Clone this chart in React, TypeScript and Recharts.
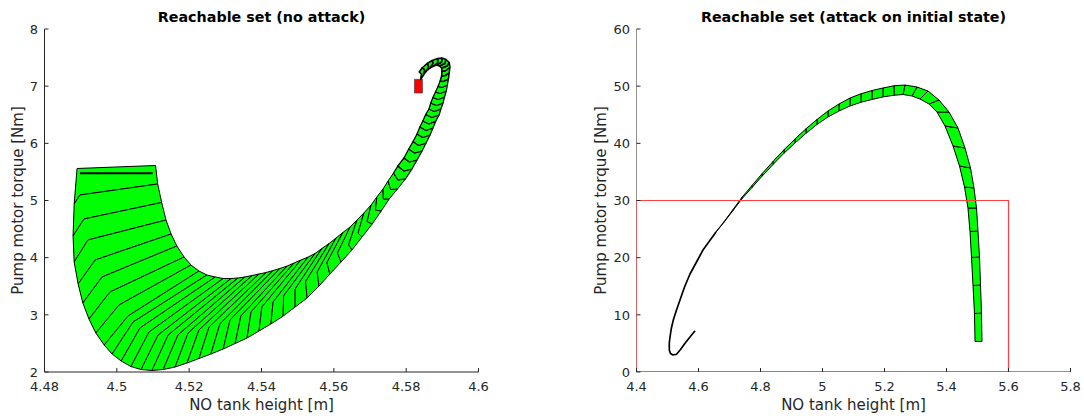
import React from "react";
import { ScatterChart, Scatter, XAxis, YAxis, ReferenceArea } from "recharts";

type Pt = [number, number];

const AXIS = "#262626";
const GREEN = "#00ff00";
const FONT = "'DejaVu Sans', Verdana, sans-serif";

const noAttackXTicks = [4.48, 4.5, 4.52, 4.54, 4.56, 4.58, 4.6];
const noAttackYTicks = [2, 3, 4, 5, 6, 7, 8];
const attackXTicks = [4.4, 4.6, 4.8, 5, 5.2, 5.4, 5.6, 5.8];
const attackYTicks = [0, 10, 20, 30, 40, 50, 60];

// reach set cross sections, one per time step: outer edge, kink, inner edge
const noAttackSections: Pt[][] = [
  [[4.489, 5.5598], [4.4998, 5.5861], [4.5107, 5.6123]],
  [[4.4882, 4.9388], [4.4898, 5.0963], [4.5113, 5.2887]],
  [[4.4879, 4.379], [4.4909, 4.6764], [4.5124, 4.9651]],
  [[4.4882, 3.9241], [4.492, 4.309], [4.5136, 4.6589]],
  [[4.4893, 3.5392], [4.494, 3.9591], [4.515, 4.414]],
  [[4.4906, 3.2068], [4.4959, 3.6617], [4.5166, 4.2041]],
  [[4.4923, 2.9268], [4.4981, 3.3994], [4.5186, 4.0116]],
  [[4.4942, 2.6819], [4.5006, 3.172], [4.5205, 3.8716]],
  [[4.4965, 2.4719], [4.5031, 2.9796], [4.5227, 3.7667]],
  [[4.4987, 2.3144], [4.5045, 2.8747], [4.5249, 3.6967]],
  [[4.5012, 2.192], [4.5064, 2.7697], [4.5272, 3.6617]],
  [[4.5039, 2.0957], [4.5089, 2.6997], [4.5294, 3.6354]],
  [[4.5067, 2.0433], [4.5114, 2.6472], [4.5316, 3.6354]],
  [[4.5097, 2.0258], [4.5142, 2.6472], [4.5335, 3.6442]],
  [[4.5128, 2.0433], [4.5169, 2.6472], [4.5354, 3.6617]],
  [[4.5161, 2.087], [4.5197, 2.6822], [4.5374, 3.6879]],
  [[4.5194, 2.157], [4.5227, 2.7347], [4.5393, 3.7142]],
  [[4.5227, 2.2357], [4.5255, 2.7872], [4.5413, 3.7404]],
  [[4.526, 2.3144], [4.5285, 2.8397], [4.5432, 3.7754]],
  [[4.5294, 2.4019], [4.5313, 2.9096], [4.5451, 3.8104]],
  [[4.5327, 2.4982], [4.5343, 2.9796], [4.5471, 3.8541]],
  [[4.536, 2.5944], [4.5371, 3.0496], [4.549, 3.9066]],
  [[4.5393, 2.7169], [4.5401, 3.1371], [4.5509, 3.9591]],
  [[4.5426, 2.8394], [4.5432, 3.2245], [4.5529, 4.0116]],
  [[4.546, 2.9796], [4.5461, 3.3295], [4.5548, 4.0728]],
  [[4.5493, 3.1368], [4.5493, 3.4519], [4.5567, 4.1603]],
  [[4.5526, 3.2943], [4.5522, 3.5831], [4.5587, 4.2478]],
  [[4.5559, 3.5042], [4.5554, 3.7493], [4.5606, 4.344]],
  [[4.5589, 3.7142], [4.5581, 3.9155], [4.5625, 4.4403]],
  [[4.562, 3.9241], [4.561, 4.0817], [4.5645, 4.5364]],
  [[4.565, 4.1341], [4.5641, 4.2303], [4.5664, 4.6589]],
  [[4.5678, 4.3615], [4.5667, 4.4315], [4.5683, 4.7814]],
  [[4.5706, 4.5889], [4.5692, 4.6327], [4.5703, 4.9213]],
  [[4.5731, 4.8164], [4.5715, 4.8339], [4.5719, 5.0613]],
  [[4.5753, 5.0263], [4.5737, 5.0263], [4.5736, 5.2012]],
  [[4.5776, 5.2012], [4.5757, 5.1925], [4.575, 5.3412]],
  [[4.5798, 5.3762], [4.5777, 5.3587], [4.5765, 5.4811]],
  [[4.5816, 5.5511], [4.5794, 5.5161], [4.5777, 5.6036]],
  [[4.583, 5.7085], [4.5809, 5.6735], [4.5794, 5.7435]],
  [[4.5844, 5.866], [4.5823, 5.831], [4.5807, 5.901]],
  [[4.5855, 6.0059], [4.5835, 5.9622], [4.5819, 6.0322]],
  [[4.5866, 6.1459], [4.5846, 6.1021], [4.583, 6.1634]],
  [[4.5874, 6.2683], [4.5855, 6.2246], [4.5838, 6.2858]],
  [[4.5882, 6.3908], [4.5863, 6.3383], [4.5846, 6.3908]],
  [[4.5891, 6.4957], [4.5871, 6.4519], [4.5854, 6.5044]],
  [[4.5896, 6.6007], [4.5878, 6.5569], [4.5863, 6.6007]],
  [[4.5902, 6.7056], [4.5884, 6.6619], [4.5868, 6.7056]],
  [[4.5906, 6.8106], [4.5889, 6.7668], [4.5874, 6.8018]],
  [[4.5911, 6.9156], [4.5894, 6.8718], [4.5881, 6.8981]],
  [[4.5914, 7.0205], [4.5899, 6.9767], [4.5888, 6.9942]],
  [[4.5917, 7.1254], [4.5903, 7.0816], [4.5894, 7.0904]],
  [[4.5919, 7.2304], [4.5907, 7.1866], [4.5898, 7.1779]],
  [[4.5921, 7.3354], [4.591, 7.2741], [4.5899, 7.2566]],
  [[4.5919, 7.4141], [4.5913, 7.3529], [4.5898, 7.3179]],
  [[4.591, 7.4666], [4.5907, 7.3966], [4.5892, 7.3529]],
  [[4.5899, 7.4928], [4.5898, 7.4228], [4.5885, 7.3704]],
  [[4.5887, 7.4841], [4.5887, 7.4141], [4.5876, 7.3529]],
  [[4.5872, 7.4491], [4.5874, 7.3966], [4.5866, 7.3179]],
  [[4.5858, 7.3966], [4.5862, 7.3441], [4.5855, 7.2566]],
  [[4.5845, 7.3266], [4.5851, 7.2829], [4.5847, 7.1866]],
  [[4.5836, 7.2479], [4.5842, 7.2129], [4.584, 7.1166]],
];

const initialSet: Pt[] = [
  [4.4898, 5.476],
  [4.5099, 5.476],
];

const targetBox = { x1: 4.5823, x2: 4.5845, y1: 6.88, y2: 7.12 };

// attack case: outer edge, inner edge
const attackSections: Pt[][] = [
  [[5.5145, 5.34], [5.492, 5.34]],
  [[5.5129, 10.32], [5.4903, 10.23]],
  [[5.5097, 15.22], [5.4855, 15.13]],
  [[5.5065, 20.12], [5.4807, 20.03]],
  [[5.5016, 24.67], [5.4758, 24.58]],
  [[5.4968, 28.69], [5.4693, 28.69]],
  [[5.4887, 32.19], [5.4581, 32.36]],
  [[5.4774, 35.69], [5.442, 36.04]],
  [[5.4597, 39.18], [5.421, 39.53]],
  [[5.4371, 42.68], [5.3952, 43.03]],
  [[5.4081, 45.48], [5.3694, 45.48]],
  [[5.3758, 47.58], [5.3436, 46.88]],
  [[5.3403, 49.15], [5.3145, 47.75]],
  [[5.3049, 49.85], [5.2887, 48.28]],
  [[5.2662, 50.2], [5.2597, 48.54]],
  [[5.2307, 50.07], [5.2307, 48.41]],
  [[5.1952, 49.68], [5.1952, 48.12]],
  [[5.1597, 49.24], [5.1597, 47.67]],
  [[5.1242, 48.67], [5.1242, 47.19]],
  [[5.0887, 47.93], [5.0887, 46.53]],
  [[5.0532, 46.88], [5.0532, 45.66]],
  [[5.0177, 45.66], [5.0177, 44.61]],
  [[4.9823, 44.17], [4.9823, 43.3]],
  [[4.9468, 42.55], [4.9468, 41.76]],
  [[4.9113, 40.76], [4.9113, 40.06]],
  [[4.8758, 38.88], [4.8758, 38.27]],
  [[4.8403, 36.82], [4.8403, 36.3]],
  [[4.8048, 34.68], [4.8048, 34.24]],
  [[4.7726, 32.62], [4.7726, 32.27]],
  [[4.7403, 30.57], [4.7403, 30.31]],
  [[4.7113, 28.42], [4.7113, 28.25]],
  [[4.6823, 26.29], [4.6823, 26.19]],
  [[4.6565, 24.52], [4.6565, 24.46]],
];

const attackTail: Pt[] = [
  [4.6565, 24.49],
  [4.6355, 22.92],
  [4.6145, 21.34],
  [4.5936, 19.24],
  [4.5726, 17.14],
  [4.5549, 14.87],
  [4.5403, 12.59],
  [4.5291, 10.85],
  [4.5187, 9.1],
  [4.5123, 7.61],
  [4.5081, 6.12],
  [4.5058, 5.07],
  [4.5058, 3.85],
  [4.5097, 3.24],
  [4.5178, 2.97],
  [4.5291, 3.1],
  [4.542, 3.94],
  [4.5565, 5.02],
  [4.5726, 6.12],
  [4.5887, 7.22],
];

const safeBox: Pt[] = [
  [4.4, 0],
  [5.6, 0],
  [5.6, 30],
  [4.4, 30],
  [4.4, 0],
];

const attackAxes: Pt[] = [
  [4.4, 60],
  [4.4, 0],
  [5.8, 0],
];

const toPoints = (pts: Pt[]) => pts.map(([x, y]) => ({ x, y }));

// consecutive cross sections close into one polygon per step
function toPolygons(sections: Pt[][]) {
  const out: { x: number; y: number }[][] = [];
  for (let i = 0; i < sections.length - 1; i++) {
    const ring = [...sections[i], ...[...sections[i + 1]].reverse()];
    ring.push(ring[0]);
    out.push(toPoints(ring));
  }
  return out;
}

const noAttackPolys = toPolygons(noAttackSections);
const attackPolys = toPolygons(attackSections);

const hidePoint = () => <g />;

function BottomTick(props: any) {
  const { x, y, payload } = props;
  return (
    <g>
      <line x1={x} x2={x} y1={y} y2={y - 4} stroke={AXIS} strokeWidth={1} />
      <text x={x} y={y + 19} textAnchor="middle" fontSize={13} fill={AXIS} fontFamily={FONT}>
        {String(payload.value)}
      </text>
    </g>
  );
}

function LeftTick(props: any) {
  const { x, y, payload } = props;
  return (
    <g>
      <line x1={x} x2={x + 4} y1={y} y2={y} stroke={AXIS} strokeWidth={1} />
      <text x={x - 6.5} y={y} dy="0.36em" textAnchor="end" fontSize={13} fill={AXIS} fontFamily={FONT}>
        {String(payload.value)}
      </text>
    </g>
  );
}

// thin late steps near the equilibrium read darker in the original
const polyLine = (i: number) => ({
  fill: GREEN,
  stroke: "#000",
  strokeWidth: i >= 50 ? 1.5 : i >= 36 ? 1.25 : 1,
  strokeLinejoin: "round",
});

function NoAttackChart() {
  return (
    <ScatterChart width={542} height={418} margin={{ top: 29, right: 63.5, bottom: 0, left: 0 }}>
      <XAxis
        dataKey="x"
        type="number"
        domain={[4.48, 4.6]}
        ticks={noAttackXTicks}
        interval={0}
        allowDataOverflow
        height={46}
        tickSize={0}
        tickMargin={0}
        tickLine={false}
        tick={<BottomTick />}
        axisLine={{ stroke: AXIS }}
      />
      <YAxis
        dataKey="y"
        type="number"
        domain={[2, 8]}
        ticks={noAttackYTicks}
        interval={0}
        allowDataOverflow
        width={44.5}
        tickSize={0}
        tickMargin={0}
        tickLine={false}
        tick={<LeftTick />}
        axisLine={{ stroke: AXIS }}
      />
      {noAttackPolys.map((poly, i) => (
        <Scatter key={i} data={poly} shape={hidePoint} line={polyLine(i)} isAnimationActive={false} />
      ))}
      <Scatter
        data={toPoints(initialSet)}
        shape={hidePoint}
        line={{ stroke: "#000", strokeWidth: 2 }}
        isAnimationActive={false}
      />
      <ReferenceArea
        {...targetBox}
        fill="#ff0000"
        fillOpacity={1}
        stroke="#333"
        strokeWidth={0.6}
        ifOverflow="visible"
      />
    </ScatterChart>
  );
}

function AttackChart() {
  return (
    <ScatterChart width={542} height={418} margin={{ top: 29, right: 13.5, bottom: 0, left: 0 }}>
      <XAxis
        dataKey="x"
        type="number"
        domain={[4.4, 5.8]}
        ticks={attackXTicks}
        interval={0}
        allowDataOverflow
        height={46}
        tickSize={0}
        tickMargin={0}
        tickLine={false}
        tick={<BottomTick />}
        axisLine={false}
      />
      <YAxis
        dataKey="y"
        type="number"
        domain={[0, 60]}
        ticks={attackYTicks}
        interval={0}
        allowDataOverflow
        width={94.5}
        tickSize={0}
        tickMargin={0}
        tickLine={false}
        tick={<LeftTick />}
        axisLine={false}
      />
      <Scatter
        data={toPoints(attackAxes)}
        shape={hidePoint}
        line={{ stroke: AXIS, strokeWidth: 1, fill: "none" }}
        isAnimationActive={false}
      />
      {attackPolys.map((poly, i) => (
        <Scatter key={i} data={poly} shape={hidePoint} line={polyLine(0)} isAnimationActive={false} />
      ))}
      <Scatter
        data={toPoints(attackTail)}
        shape={hidePoint}
        line={{ stroke: "#000", strokeWidth: 1.7, fill: "none", strokeLinejoin: "round" }}
        isAnimationActive={false}
      />
      <Scatter
        data={toPoints(safeBox)}
        shape={hidePoint}
        line={{ stroke: "#ff4040", strokeWidth: 1.2, fill: "none" }}
        isAnimationActive={false}
      />
    </ScatterChart>
  );
}

export default function App() {
  const label = { fontFamily: FONT, fill: AXIS, fontSize: 15 };
  const title = { fontFamily: FONT, fill: "#000", fontSize: 14.3, fontWeight: "bold" as const };
  return (
    <div style={{ position: "absolute", left: 0, top: 0, width: 1084, height: 418, background: "#fff" }}>
      <div style={{ position: "absolute", left: 0, top: 0 }}>
        <NoAttackChart />
      </div>
      <div style={{ position: "absolute", left: 542, top: 0 }}>
        <AttackChart />
      </div>
      <svg width={1084} height={418} style={{ position: "absolute", left: 0, top: 0, pointerEvents: "none" }}>
        <text x={261.5} y={21.5} textAnchor="middle" {...title}>
          Reachable set (no attack)
        </text>
        <text x={853.5} y={21.5} textAnchor="middle" {...title}>
          Reachable set (attack on initial state)
        </text>
        <text x={261.5} y={410} textAnchor="middle" {...label}>
          NO tank height [m]
        </text>
        <text x={853.5} y={410} textAnchor="middle" {...label}>
          NO tank height [m]
        </text>
        <text x={17.5} y={200.5} dy="0.35em" textAnchor="middle" transform="rotate(-90, 17.5, 200.5)" {...label}>
          Pump motor torque [Nm]
        </text>
        <text x={601} y={200.5} dy="0.35em" textAnchor="middle" transform="rotate(-90, 601, 200.5)" {...label}>
          Pump motor torque [Nm]
        </text>
      </svg>
    </div>
  );
}
